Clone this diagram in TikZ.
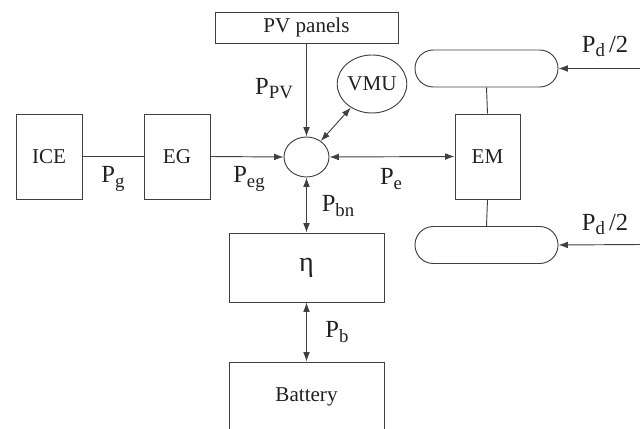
\documentclass[tikz,border=0pt]{standalone}
\usepackage{fontspec}
\setmainfont{Liberation Serif}
\usetikzlibrary{arrows.meta, shapes.geometric}
\definecolor{lngray}{HTML}{404040}
\definecolor{txgray}{HTML}{202020}
\newcommand{\Psub}[1]{P\raisebox{-3.5pt}{\fontsize{16}{16}\selectfont #1}}

\begin{document}
\begin{tikzpicture}[x=0.03cm, y=-0.03cm, >={Latex[length=2.8mm, width=2mm]},
  every node/.style={text=txgray},
  blk/.style={draw=lngray, line width=0.8pt, inner sep=0pt, font=\fontsize{18}{20}\selectfont},
  wheel/.style={draw=lngray, line width=0.8pt, minimum width=42.9mm, minimum height=11.1mm, rounded corners=5.5mm},
  lbl/.style={font=\fontsize{21}{24}\selectfont},
  link/.style={draw=lngray, line width=0.8pt}]

\useasboundingbox (0,0) rectangle (640,429);

% --- Generator branch ---
\node[blk, minimum width=19.8mm, minimum height=25.5mm] (ice) at (49,156.5) {ICE};
\node[blk, minimum width=19.8mm, minimum height=25.5mm] (eg) at (177,156.5) {EG};

% --- Power node, PV and VMU ---
\node[blk, minimum width=54.9mm, minimum height=9.3mm] (pv) at (306.5,27.5) {PV panels};
\node[blk, ellipse, minimum width=13.5mm, minimum height=12mm] (junc) at (306.5,157) {};
\node[blk, ellipse, minimum width=19.5mm, minimum height=17.4mm] (vmu) at (372,84) {VMU};

% --- Motor and wheels ---
\node[blk, minimum width=19.5mm, minimum height=25.5mm] (em) at (487.5,156.5) {EM};
\node[wheel] (whtop) at (486.5,68.5) {};
\node[wheel] (whbot) at (486.5,245) {};
\coordinate (dtop) at (640,68.5);
\coordinate (dbot) at (640,244.5);

% --- Storage ---
\node[blk, minimum width=46.5mm, minimum height=20.7mm, font=\fontsize{24}{24}\selectfont] (eta) at (306.5,267.5) {η};
\node[blk, minimum width=46.5mm, minimum height=21mm] (batt) at (306.5,397) {Battery};

% --- Connectors ---
\draw[link] (ice.east) -- (eg.west);
\draw[link, ->] (eg.east) -- (junc.west);
\draw[link, ->] (pv.south) -- (junc.north);
\draw[link, <->] (junc) -- (vmu);
\draw[link, <->] (junc.east) -- (em.west);
\draw[link, <->] (junc.south) -- (eta.north);
\draw[link, <->] (eta.south) -- (batt.north);
\draw[link] (em.north) -- (whtop.south);
\draw[link] (em.south) -- (whbot.north);
\draw[link, ->] (dtop) -- (whtop.east);
\draw[link, ->] (dbot) -- (whbot.east);

% --- Power labels ---
\node[lbl] (lpg) at (113,179) {\Psub{g}};
\node[lbl] (lpeg) at (249,179) {\Psub{eg}};
\node[lbl] (lppv) at (274,89) {\Psub{PV}};
\node[lbl] (lpe) at (391,179) {\Psub{e}};
\node[lbl] (lpbn) at (338,206) {\Psub{bn}};
\node[lbl] (lpb) at (337,332) {\Psub{b}};
\node[lbl] (lpd1) at (605,46) {\Psub{d}\,/2};
\node[lbl] (lpd2) at (605,224) {\Psub{d}\,/2};

\end{tikzpicture}
\end{document}
